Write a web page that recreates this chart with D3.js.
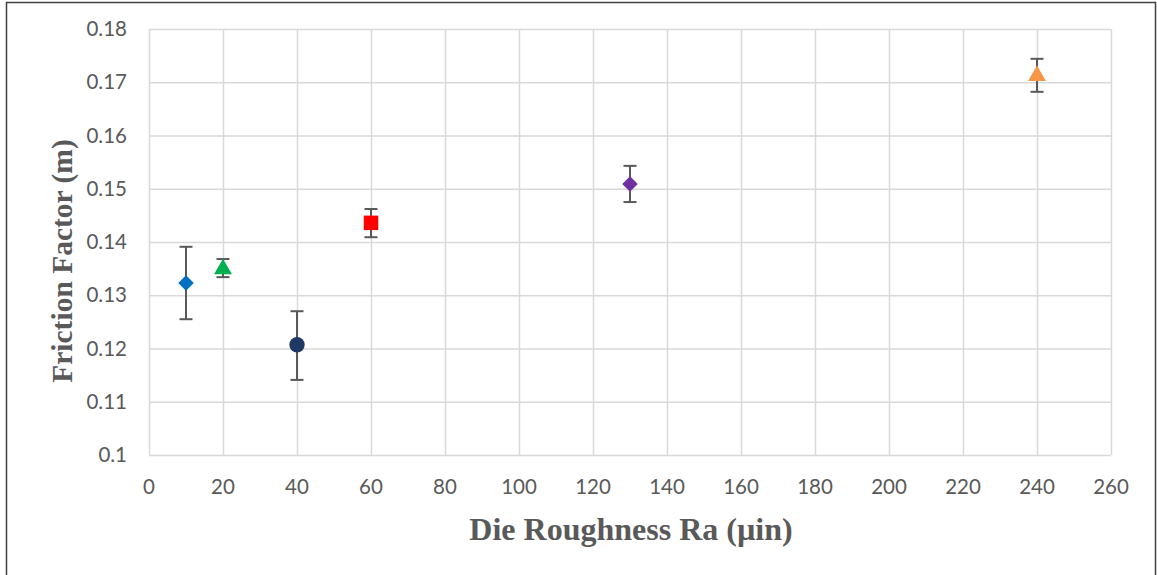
<!DOCTYPE html>
<html><head><meta charset="utf-8">
<script src="https://cdn.jsdelivr.net/npm/d3@7"></script>
<style>body{margin:0;background:#fff}svg{display:block}</style>
</head><body>
<svg id="c" width="1157" height="575"></svg>
<script>
const xValues = [10, 20, 40, 60, 130, 240];
const yValues = [0.1323, 0.1351, 0.1207, 0.1436, 0.1509, 0.1714];
const errLow  = [0.1255, 0.1334, 0.1141, 0.1409, 0.1475, 0.1682];
const errHigh = [0.1391, 0.1368, 0.1270, 0.1462, 0.1543, 0.1744];
const markers = ["diamond", "triangle", "circle", "square", "diamond", "triangle"];
const colors  = ["#0070C0", "#00B050", "#203864", "#FF0000", "#7030A0", "#F79646"];
const xTicks = d3.range(0, 261, 20);
const yTicks = [0.1, 0.11, 0.12, 0.13, 0.14, 0.15, 0.16, 0.17, 0.18];

const svg = d3.select("#c");
svg.append("rect").attr("x",6.5).attr("y",2.5).attr("width",1149).attr("height",590)
  .attr("fill","none").attr("stroke","#404040").attr("stroke-width",1.5);

const x = d3.scaleLinear().domain([0,260]).range([149,1111]);
const y = d3.scaleLinear().domain([0.1,0.18]).range([455,29]);
const grid = "#D9D9D9";
const g = svg.append("g");
g.selectAll(".vg").data(xTicks).join("line")
  .attr("x1",d=>x(d)+0.5).attr("x2",d=>x(d)+0.5).attr("y1",y(0.18)).attr("y2",y(0.1))
  .attr("stroke",grid).attr("stroke-width",1.5);
g.selectAll(".hg").data(yTicks).join("line")
  .attr("y1",d=>y(d)+0.5).attr("y2",d=>y(d)+0.5).attr("x1",x(0)).attr("x2",x(260))
  .attr("stroke",grid).attr("stroke-width",1.5);

const tf = "Lato, 'Open Sans', sans-serif";
g.selectAll(".yt").data(yTicks).join("text")
  .attr("x",127).attr("y",d=>y(d)).attr("dy","0.35em").attr("text-anchor","end")
  .attr("font-family",tf).attr("font-size",20.5).attr("fill","#595959")
  .text(d=>d3.format("")(+d.toFixed(2)));
g.selectAll(".xt").data(xTicks).join("text")
  .attr("x",d=>x(d)).attr("y",487).attr("dy","0.35em").attr("text-anchor","middle")
  .attr("font-family",tf).attr("font-size",20.5).attr("fill","#595959")
  .text(d=>d);

svg.append("text").attr("x",631).attr("y",529).attr("dy","0.35em").attr("text-anchor","middle")
  .attr("font-family","'Liberation Serif', serif").attr("font-weight","bold").attr("font-size",32)
  .attr("fill","#595959").text("Die Roughness Ra (µin)");
svg.append("text").attr("transform","translate(62,261) rotate(-90)").attr("dy","0.35em").attr("text-anchor","middle")
  .attr("font-family","'Liberation Serif', serif").attr("font-weight","bold").attr("font-size",29.5)
  .attr("fill","#595959").text("Friction Factor (m)");

const data = xValues.map((v,i)=>({x:v,y:yValues[i],lo:errLow[i],hi:errHigh[i],m:markers[i],c:colors[i]}));
const eb = svg.append("g").attr("stroke","#595959").attr("stroke-width",2);
data.forEach(d=>{
  const cx = x(d.x);
  eb.append("line").attr("x1",cx).attr("x2",cx).attr("y1",y(d.lo)).attr("y2",y(d.hi));
  eb.append("line").attr("x1",cx-6.5).attr("x2",cx+6.5).attr("y1",y(d.lo)).attr("y2",y(d.lo));
  eb.append("line").attr("x1",cx-6.5).attr("x2",cx+6.5).attr("y1",y(d.hi)).attr("y2",y(d.hi));
});
const symMap = {diamond:d3.symbolSquare, triangle:d3.symbolTriangle, circle:d3.symbolCircle, square:d3.symbolSquare};
const sizeMap = {diamond:120, triangle:140, circle:185, square:210};
svg.append("g").selectAll("path").data(data).join("path")
  .attr("transform",d=>`translate(${x(d.x)},${y(d.y)})` + (d.m==="diamond"?" rotate(45)":"") + (d.m==="triangle"?" translate(0,1)":""))
  .attr("d",d=>d3.symbol().type(symMap[d.m]).size(sizeMap[d.m])())
  .attr("fill",d=>d.c);
</script>
</body></html>
